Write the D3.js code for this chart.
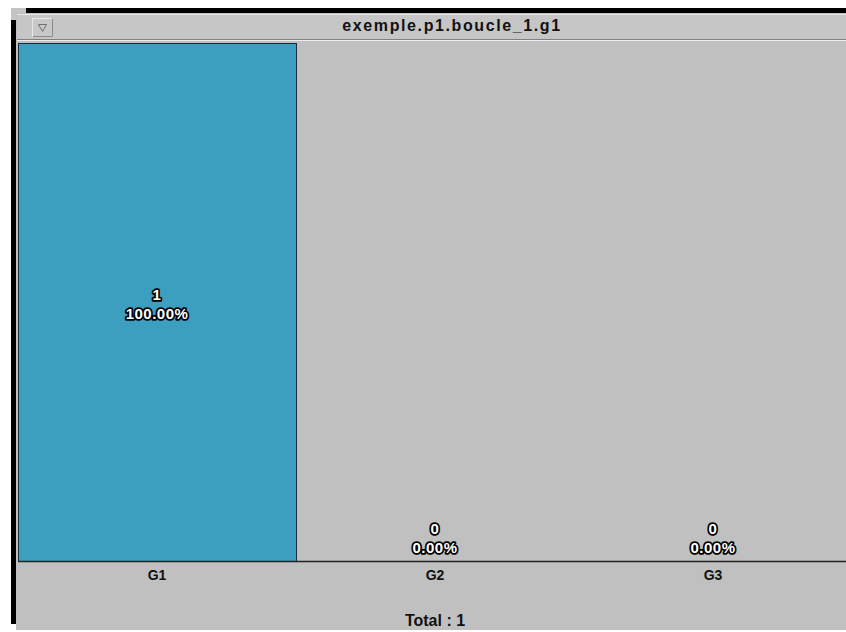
<!DOCTYPE html>
<html>
<head>
<meta charset="utf-8">
<script src="https://cdn.jsdelivr.net/npm/d3@7"></script>
<style>
  html, body { margin: 0; padding: 0; background: #ffffff; }
  svg { display: block; }
  text { font-family: "Liberation Sans", Arial, sans-serif; }
</style>
</head>
<body>
<svg id="chart" width="846" height="632"></svg>
<script>
const title = "exemple.p1.boucle_1.g1";
const categories = ["G1", "G2", "G3"];
const values = [1, 0, 0];
const percentLabels = ["100.00%", "0.00%", "0.00%"];
const totalLabel = "Total : 1";

const svg = d3.select("#chart");
const W = 846, H = 632;

// window frame
svg.append("rect").attr("x", 11).attr("y", 8).attr("width", W - 11).attr("height", 5).attr("fill", "#000");
svg.append("rect").attr("x", 11).attr("y", 8).attr("width", 5).attr("height", 616).attr("fill", "#000");
svg.append("rect").attr("x", 11).attr("y", 8).attr("width", 15).attr("height", 12).attr("fill", "#c4c4c4");
svg.append("rect").attr("x", 16).attr("y", 13).attr("width", W - 16).attr("height", H - 15).attr("fill", "#c0c0c0");

// title bar
svg.append("rect").attr("x", 17).attr("y", 14).attr("width", W - 17).attr("height", 25).attr("fill", "#c6c6c6");
svg.append("line").attr("x1", 17).attr("x2", W).attr("y1", 14.5).attr("y2", 14.5).attr("stroke", "#e8e8e8");
svg.append("line").attr("x1", 17).attr("x2", W).attr("y1", 39.5).attr("y2", 39.5).attr("stroke", "#808080");
svg.append("line").attr("x1", 17).attr("x2", W).attr("y1", 40.5).attr("y2", 40.5).attr("stroke", "#ececec");
// menu button
svg.append("rect").attr("x", 32.5).attr("y", 18.5).attr("width", 20).attr("height", 18)
  .attr("fill", "#c8c8c8").attr("stroke", "#e8e8e8");
svg.append("path").attr("d", "M33,36.5 H52.5 V18.5").attr("fill", "none").attr("stroke", "#8a8a8a");
svg.append("path").attr("d", "M38.5,24.5 L46.5,24.5 L42.5,31.5 Z").attr("fill", "none").attr("stroke", "#707070");

svg.append("text").attr("x", 452).attr("y", 31)
  .attr("text-anchor", "middle").attr("font-size", 16).attr("font-weight", "bold")
  .attr("letter-spacing", "1.6px").attr("fill", "#111").text(title);

// chart
const plotLeft = 18, plotRight = 852, plotTop = 43, plotBottom = 561;
const x = d3.scaleBand().domain(categories).range([plotLeft, plotRight]).padding(0);
const y = d3.scaleLinear().domain([0, 1]).range([plotBottom, plotTop]);

const g = svg.append("g");
g.selectAll("rect.bar").data(categories).join("rect")
  .attr("class", "bar")
  .attr("x", d => x(d) + 0.5)
  .attr("y", (d, i) => y(values[i]) + 0.5)
  .attr("width", x.bandwidth())
  .attr("height", (d, i) => y(0) - y(values[i]))
  .attr("fill", "#3c9fc0")
  .attr("stroke", "#1c2c3c")
  .attr("stroke-width", 1)
  .style("display", (d, i) => values[i] > 0 ? null : "none");

// x axis
const xAxis = d3.axisBottom(x).tickSize(0).tickPadding(9);
const ax = svg.append("g").attr("transform", `translate(0,${plotBottom})`).call(xAxis);
ax.select(".domain").attr("stroke", "#222").attr("stroke-width", 1.5);
ax.selectAll("text").attr("font-size", 14).attr("font-weight", "bold").attr("fill", "#111")
  .attr("font-family", "Liberation Sans, Arial, sans-serif");

// value labels
const labels = svg.append("g");
categories.forEach((c, i) => {
  const cx = x(c) + x.bandwidth() / 2;
  const cy = values[i] > 0 ? (y(values[i]) + y(0)) / 2 : plotBottom - 25;
  const t = labels.append("text").attr("text-anchor", "middle")
    .attr("font-size", 15).attr("font-weight", "bold").attr("letter-spacing", "0.5px")
    .attr("fill", "#fff").attr("stroke", "#000").attr("stroke-width", 3.5)
    .attr("stroke-linejoin", "round").style("paint-order", "stroke");
  t.append("tspan").attr("x", cx).attr("y", cy - 2).text(values[i]);
  t.append("tspan").attr("x", cx).attr("y", cy + 17).text(percentLabels[i]);
});

svg.append("text").attr("x", (plotLeft + plotRight) / 2).attr("y", 626)
  .attr("text-anchor", "middle").attr("font-size", 16).attr("font-weight", "bold")
  .attr("fill", "#111").text(totalLabel);
</script>
</body>
</html>
